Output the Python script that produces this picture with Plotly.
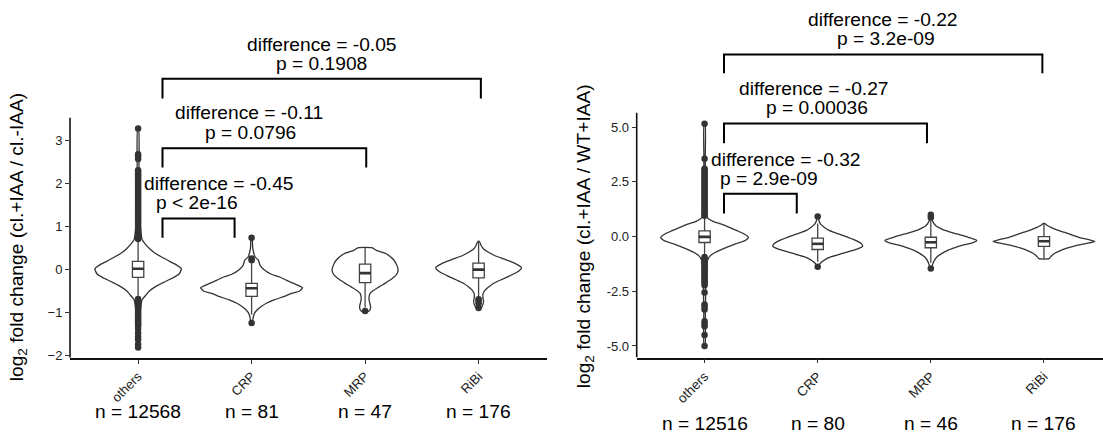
import plotly.graph_objects as go

# ---------------- data ----------------
categories = ["others", "CRP", "MRP", "RiBi"]
cat_pos = [1, 2, 3, 4]

# Left panel (cl.+IAA / cl.-IAA)
n_left = [12568, 81, 47, 176]
box_left = {  # q1, median, q3, lower fence, upper fence
    "q1": [-0.18, -0.62, -0.30, -0.19],
    "median": [0.02, -0.43, -0.08, 0.0],
    "q3": [0.195, -0.32, 0.13, 0.15],
    "lower": [-0.66, -1.05, -0.88, -0.66],
    "upper": [0.68, 0.15, 0.51, 0.65],
}
# violin outlines: y level and half-width (in category units)
viol_left_y = [
    [3.28, 2.3, 1.5, 1.0, 0.8, 0.7, 0.6, 0.5, 0.4, 0.3, 0.2, 0.1, 0.02, -0.1, -0.2, -0.3, -0.4, -0.5, -0.6, -0.7, -0.9, -1.2, -1.5, -1.81],
    [0.74, 0.5, 0.3, 0.22, 0.1, 0.0, -0.1, -0.17, -0.25, -0.32, -0.42, -0.5, -0.55, -0.62, -0.7, -0.78, -0.85, -0.93, -1.01, -1.1, -1.24],
    [0.51, 0.45, 0.37, 0.22, 0.1, -0.01, -0.1, -0.2, -0.3, -0.4, -0.48, -0.55, -0.62, -0.7, -0.78, -0.85, -0.92, -0.97],
    [0.66, 0.55, 0.48, 0.4, 0.33, 0.25, 0.18, 0.1, 0.05, -0.02, -0.09, -0.16, -0.24, -0.32, -0.4, -0.48, -0.55, -0.65, -0.74, -0.82, -0.92],
]
viol_left_w = [
    [0.004, 0.008, 0.012, 0.020, 0.028, 0.035, 0.062, 0.097, 0.141, 0.203, 0.273, 0.344, 0.381, 0.361, 0.300, 0.220, 0.150, 0.097, 0.066, 0.035, 0.022, 0.013, 0.009, 0.004],
    [0.004, 0.010, 0.030, 0.060, 0.075, 0.110, 0.170, 0.247, 0.310, 0.370, 0.449, 0.420, 0.352, 0.290, 0.198, 0.130, 0.088, 0.050, 0.026, 0.015, 0.004],
    [0.059, 0.100, 0.185, 0.255, 0.280, 0.291, 0.280, 0.242, 0.185, 0.123, 0.075, 0.044, 0.036, 0.035, 0.042, 0.048, 0.045, 0.030],
    [0.006, 0.025, 0.044, 0.090, 0.141, 0.220, 0.291, 0.352, 0.379, 0.360, 0.317, 0.260, 0.194, 0.130, 0.088, 0.055, 0.040, 0.038, 0.044, 0.036, 0.015],
]
outliers_left = [
    [0.71, 0.74, 0.78, 0.83, 0.87, 0.91, 0.95, 1.0, 1.04, 1.09, 1.13, 1.17, 1.22, 1.26, 1.31, 1.35, 1.39, 1.44, 1.48, 1.53,
     1.57, 1.61, 1.66, 1.7, 1.74, 1.79, 1.83, 1.88, 1.92, 1.96, 2.01, 2.05, 2.09, 2.14, 2.18, 2.22, 2.27, 2.31, 2.57, 2.63, 2.68, 3.28,
     -0.68, -0.72, -0.76, -0.8, -0.84, -0.88, -0.92, -0.96, -1.0, -1.04, -1.08, -1.12, -1.16, -1.2, -1.24, -1.28, -1.31,
     -1.38, -1.47, -1.55, -1.62, -1.73, -1.81],
    [0.74, 0.22, 0.26, -1.24],
    [-0.96],
    [-0.69, -0.72, -0.78, -0.89],
]

# Right panel (cl.+IAA / WT+IAA)
n_right = [12516, 80, 46, 176]
box_right = {
    "q1": [-0.27, -0.59, -0.51, -0.45],
    "median": [-0.01, -0.33, -0.26, -0.21],
    "q3": [0.26, -0.07, -0.03, 0.0],
    "lower": [-0.93, -1.15, -1.2, -1.01],
    "upper": [0.95, 0.6, 0.75, 0.6],
}
viol_right_y = [
    [5.16, 3.5, 2.0, 1.2, 0.87, 0.7, 0.57, 0.42, 0.27, 0.12, -0.03, -0.18, -0.33, -0.48, -0.63, -0.75, -0.86, -1.1, -2.0, -3.5, -5.0],
    [0.93, 0.75, 0.57, 0.42, 0.27, 0.12, -0.03, -0.18, -0.33, -0.44, -0.53, -0.63, -0.78, -0.93, -1.05, -1.16, -1.25, -1.38],
    [1.0, 0.75, 0.5, 0.38, 0.27, 0.12, -0.03, -0.18, -0.3, -0.42, -0.53, -0.63, -0.78, -0.93, -1.1, -1.24, -1.46],
    [0.6, 0.51, 0.42, 0.3, 0.2, 0.09, -0.03, -0.13, -0.22, -0.32, -0.41, -0.52, -0.63, -0.75, -0.86, -0.95, -1.01],
]
viol_right_w = [
    [0.004, 0.006, 0.010, 0.016, 0.025, 0.075, 0.150, 0.220, 0.287, 0.350, 0.388, 0.360, 0.274, 0.200, 0.132, 0.085, 0.053, 0.025, 0.012, 0.007, 0.004],
    [0.004, 0.010, 0.026, 0.060, 0.106, 0.185, 0.268, 0.340, 0.388, 0.397, 0.370, 0.309, 0.210, 0.115, 0.065, 0.035, 0.018, 0.004],
    [0.004, 0.012, 0.044, 0.085, 0.132, 0.230, 0.331, 0.406, 0.360, 0.260, 0.200, 0.150, 0.095, 0.053, 0.030, 0.018, 0.004],
    [0.004, 0.030, 0.062, 0.120, 0.177, 0.240, 0.309, 0.390, 0.450, 0.370, 0.282, 0.210, 0.150, 0.100, 0.070, 0.055, 0.045],
]
outliers_right = [
    [0.95, 1.02, 1.1, 1.18, 1.26, 1.34, 1.42, 1.5, 1.58, 1.66, 1.74, 1.82, 1.9, 1.98, 2.06, 2.14, 2.22, 2.3, 2.38, 2.46,
     2.54, 2.62, 2.7, 2.78, 2.86, 2.94, 3.02, 3.1, 3.56, 5.16,
     -0.93, -1.0, -1.08, -1.16, -1.24, -1.32, -1.4, -1.48, -1.56, -1.64, -1.72, -1.8, -1.88, -1.96, -2.04, -2.12,
     -2.22, -2.55, -3.1, -3.21, -3.33, -3.87, -3.98, -4.1, -4.5, -5.0],
    [0.92, -1.38],
    [0.87, 1.0, -1.46],
    [],
]

comparisons_left = [
    dict(x0=1.215, x1=4.02, yb=4.439, yl=3.98, t1="difference = -0.05", t1x=2.62, t1y=5.232, t2="p = 0.1908", t2x=2.62, t2y=4.796),
    dict(x0=1.215, x1=3.01, yb=2.82, yl=2.373, t1="difference = -0.11", t1x=1.98, t1y=3.647, t2="p = 0.0796", t2x=1.99, t2y=3.188),
    dict(x0=1.215, x1=1.85, yb=1.19, yl=0.742, t1="difference = -0.45", t1x=1.711, t1y=1.994, t2="p < 2e-16", t2x=1.523, t2y=1.557),
]
comparisons_right = [
    dict(x0=1.172, x1=3.986, yb=8.33, yl=7.472, t1="difference = -0.22", t1x=2.577, t1y=9.912, t2="p = 3.2e-09", t2x=2.6, t2y=9.054),
    dict(x0=1.172, x1=2.966, yb=5.167, yl=4.263, t1="difference = -0.27", t1x=1.965, t1y=6.749, t2="p = 0.00036", t2x=1.997, t2y=5.89),
    dict(x0=1.172, x1=1.815, yb=1.959, yl=1.055, t1="difference = -0.32", t1x=1.724, t1y=3.54, t2="p = 2.9e-09", t2x=1.572, t2y=2.637),
]

# ---------------- figure ----------------
W, H = 1103, 437
FONT = "Liberation Sans, Arial, Helvetica, sans-serif"
DARK = "#333333"
BIG = 19.2

fig = go.Figure()


def add_panel(xref, yref, vy, vw, box, outl, comps):
    # boxes (drawn in the box layer, below the scatter layer)
    for i, c in enumerate(cat_pos):
        fig.add_trace(go.Box(
            x=[c], q1=[box["q1"][i]], median=[box["median"][i]], q3=[box["q3"][i]],
            lowerfence=[box["lower"][i]], upperfence=[box["upper"][i]],
            orientation="v", width=0.1, whiskerwidth=0, fillcolor="white",
            line=dict(color="#444444", width=1.3), boxpoints=False,
            xaxis=xref, yaxis=yref, hoverinfo="skip", showlegend=False))
    # violin outlines (no fill so the boxes stay visible)
    for i, c in enumerate(cat_pos):
        ys = vy[i]
        ws = vw[i]
        xs = [c + w for w in ws] + [c - w for w in ws[::-1]]
        yy = ys + ys[::-1]
        fig.add_trace(go.Scatter(
            x=xs + [xs[0]], y=yy + [yy[0]], mode="lines",
            line=dict(color=DARK, width=1.3, shape="spline", smoothing=0.6),
            xaxis=xref, yaxis=yref, hoverinfo="skip", showlegend=False))
    for i, c in enumerate(cat_pos):
        if outl[i]:
            fig.add_trace(go.Scatter(
                x=[c] * len(outl[i]), y=outl[i], mode="markers",
                marker=dict(color=DARK, size=6.5), xaxis=xref, yaxis=yref,
                hoverinfo="skip", showlegend=False, cliponaxis=False))
        fig.add_trace(go.Scatter(
            x=[c - 0.05, c + 0.05], y=[box["median"][i]] * 2, mode="lines",
            line=dict(color=DARK, width=2.6), xaxis=xref, yaxis=yref,
            hoverinfo="skip", showlegend=False))
    for cp in comps:
        fig.add_shape(type="path",
                      path=f"M {cp['x0']} {cp['yl']} L {cp['x0']} {cp['yb']} L {cp['x1']} {cp['yb']} L {cp['x1']} {cp['yl']}",
                      xref=xref, yref=yref, line=dict(color="black", width=2))
        for t, tx, ty in ((cp["t1"], cp["t1x"], cp["t1y"]), (cp["t2"], cp["t2x"], cp["t2y"])):
            fig.add_annotation(text=t, x=tx, y=ty, xref=xref, yref=yref, showarrow=False,
                               font=dict(family=FONT, size=BIG, color="black"),
                               xanchor="center", yanchor="middle")


add_panel("x", "y", viol_left_y, viol_left_w, box_left, outliers_left, comparisons_left)
add_panel("x2", "y2", viol_right_y, viol_right_w, box_right, outliers_right, comparisons_right)

# axis geometry (pixels)
L_left, L_right, L_bottom = 70, 546.7, 362
R_left, R_right, R_bottom = 636.7, 1103, 361.7

def axis_style(size):
    return dict(showgrid=False, zeroline=False, ticks="outside", ticklen=4,
                tickcolor=DARK, tickwidth=1,
                tickfont=dict(family=FONT, size=size, color="#222222"))

fig.update_layout(
    width=W, height=H, margin=dict(l=0, r=0, t=0, b=0),
    paper_bgcolor="white", plot_bgcolor="white", showlegend=False, boxmode="overlay",
    xaxis=dict(domain=[L_left / W, L_right / W], range=[0.4, 4.6], tickvals=cat_pos,
               ticktext=categories, tickangle=-45, showline=True, linecolor="#111111",
               linewidth=1.6, anchor="y", **axis_style(13)),
    yaxis=dict(domain=[(H - L_bottom) / H, 1], range=[-2.049, 6.266], tickvals=[-2, -1, 0, 1, 2, 3],
               showline=False, anchor="x", **axis_style(13)),
    xaxis2=dict(domain=[R_left / W, R_right / W], range=[0.4, 4.522], tickvals=cat_pos,
                ticktext=categories, tickangle=-45, showline=True, linecolor="#111111",
                linewidth=1.6, anchor="y2", **axis_style(13.5)),
    yaxis2=dict(domain=[(H - R_bottom) / H, 1], range=[-5.529, 10.816], tickvals=[-5, -2.5, 0, 2.5, 5],
                ticktext=["-5.0", "-2.5", "0.0", "2.5", "5.0"],
                showline=False, anchor="x2", **axis_style(13)),
)

# y axis lines (only over the data region)
fig.add_shape(type="line", xref="paper", yref="y", x0=L_left / W, x1=L_left / W, y0=-2.049, y1=3.53,
              line=dict(color="#111111", width=1.6))
fig.add_shape(type="line", xref="paper", yref="y2", x0=R_left / W, x1=R_left / W, y0=-5.529, y1=5.66,
              line=dict(color="#111111", width=1.6))

# n labels
for i, c in enumerate(cat_pos):
    fig.add_annotation(text=f"n = {n_left[i]}", x=c, xref="x", y=1 - 416 / H, yref="paper",
                       showarrow=False, font=dict(family=FONT, size=BIG, color="black"),
                       xanchor="center", yanchor="middle")
    fig.add_annotation(text=f"n = {n_right[i]}", x=c, xref="x2", y=1 - 428 / H, yref="paper",
                       showarrow=False, font=dict(family=FONT, size=BIG, color="black"),
                       xanchor="center", yanchor="middle")

# y titles
fig.add_annotation(text="log<sub>2</sub> fold change (cl.+IAA / cl.-IAA)", x=18 / W, y=1 - 240 / H,
                   xref="paper", yref="paper", textangle=-90, showarrow=False,
                   font=dict(family=FONT, size=BIG, color="black"), xanchor="center", yanchor="middle")
fig.add_annotation(text="log<sub>2</sub> fold change (cl.+IAA / WT+IAA)", x=585 / W, y=1 - 239 / H,
                   xref="paper", yref="paper", textangle=-90, showarrow=False,
                   font=dict(family=FONT, size=BIG, color="black"), xanchor="center", yanchor="middle")

fig.write_html("out.html")
